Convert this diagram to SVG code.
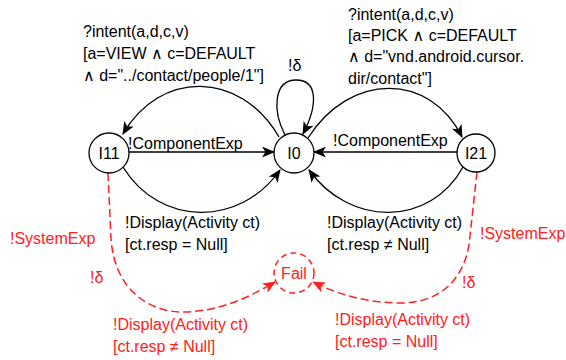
<svg xmlns="http://www.w3.org/2000/svg" width="566" height="360" viewBox="0 0 566 360">
<style>
text{font-family:"Liberation Sans","DejaVu Sans",Arial,sans-serif;font-size:16px;fill:#000}
.r{fill:#ff2020}
.st{fill:#fff;stroke:#000;stroke-width:1.3}
.e{fill:none;stroke:#000;stroke-width:1.3;marker-end:url(#a)}
.d{fill:none;stroke:#ff2020;stroke-width:1.5;stroke-dasharray:8 4;marker-end:url(#ar)}
.fail{fill:#fff;stroke:#ff2020;stroke-width:1.5;stroke-dasharray:6 4}
.c{text-anchor:middle}
</style>
<defs>
<marker id="a" viewBox="0 0 12 10" refX="11" refY="5" markerWidth="13" markerHeight="11" markerUnits="userSpaceOnUse" orient="auto"><path d="M0,0 L12,5 L0,10 L3,5 z" fill="#000"/></marker>
<marker id="ar" viewBox="0 0 12 10" refX="11" refY="5" markerWidth="13" markerHeight="11" markerUnits="userSpaceOnUse" orient="auto"><path d="M0,0 L12,5 L0,10 L3,5 z" fill="#ff2020"/></marker>
</defs>
<g id="connectors">
<path class="e" d="M279 137 C240 70 160 70 123 134"/>
<path class="e" d="M129 152 L274 152"/>
<path class="e" d="M123 167 C160 227 240 227 280 170"/>
<path class="e" d="M308 138 C350 72 430 72 462 137"/>
<path class="e" d="M457 152 L314 152"/>
<path class="e" d="M463 167 C430 227 350 227 309 170"/>
<path class="e" d="M285 135 C272 110 274 80 296 80 C318 80 318 105 303 134"/>
<path class="d" d="M108 173 L111 238 C114 290 150 313 185 312 C220 311 250 297 275 282"/>
<path class="d" d="M477 172 L469 245 C462 285 435 303 400 303 C365 303 335 293 313 282"/>
</g>
<g id="labels">
<text x="83" y="37">?intent(a,d,c,v)</text>
<text x="83" y="59">[a=VIEW ∧ c=DEFAULT</text>
<text x="83" y="81">∧ d="../contact/people/1"]</text>
<text x="348" y="20">?intent(a,d,c,v)</text>
<text x="348" y="41">[a=PICK ∧ c=DEFAULT</text>
<text x="348" y="62">∧ d="vnd.android.cursor.</text>
<text x="348" y="84">dir/contact"]</text>
<text x="288" y="71">!δ</text>
<text x="128" y="149">!ComponentExp</text>
<text x="333" y="146">!ComponentExp</text>
<text x="125" y="228">!Display(Activity ct)</text>
<text x="125" y="250">[ct.resp = Null]</text>
<text x="327" y="228">!Display(Activity ct)</text>
<text x="327" y="250">[ct.resp ≠ Null]</text>
<text class="r" x="10" y="244">!SystemExp</text>
<text class="r" x="480" y="239">!SystemExp</text>
<text class="r" x="90" y="283">!δ</text>
<text class="r" x="462" y="288">!δ</text>
<text class="r" x="113" y="330">!Display(Activity ct)</text>
<text class="r" x="113" y="352">[ct.resp ≠ Null]</text>
<text class="r" x="335" y="325">!Display(Activity ct)</text>
<text class="r" x="335" y="347">[ct.resp = Null]</text>
</g>
<g id="I11"><circle class="st" cx="109" cy="153" r="20"/><text class="c" x="109" y="159">I11</text></g>
<g id="I0"><circle class="st" cx="294" cy="153" r="20"/><text class="c" x="294" y="159">I0</text></g>
<g id="I21"><circle class="st" cx="476" cy="153" r="19"/><text class="c" x="476" y="159">I21</text></g>
<g id="Fail"><circle class="fail" cx="294" cy="273" r="20"/><text class="c r" x="294" y="279">Fail</text></g>
</svg>
